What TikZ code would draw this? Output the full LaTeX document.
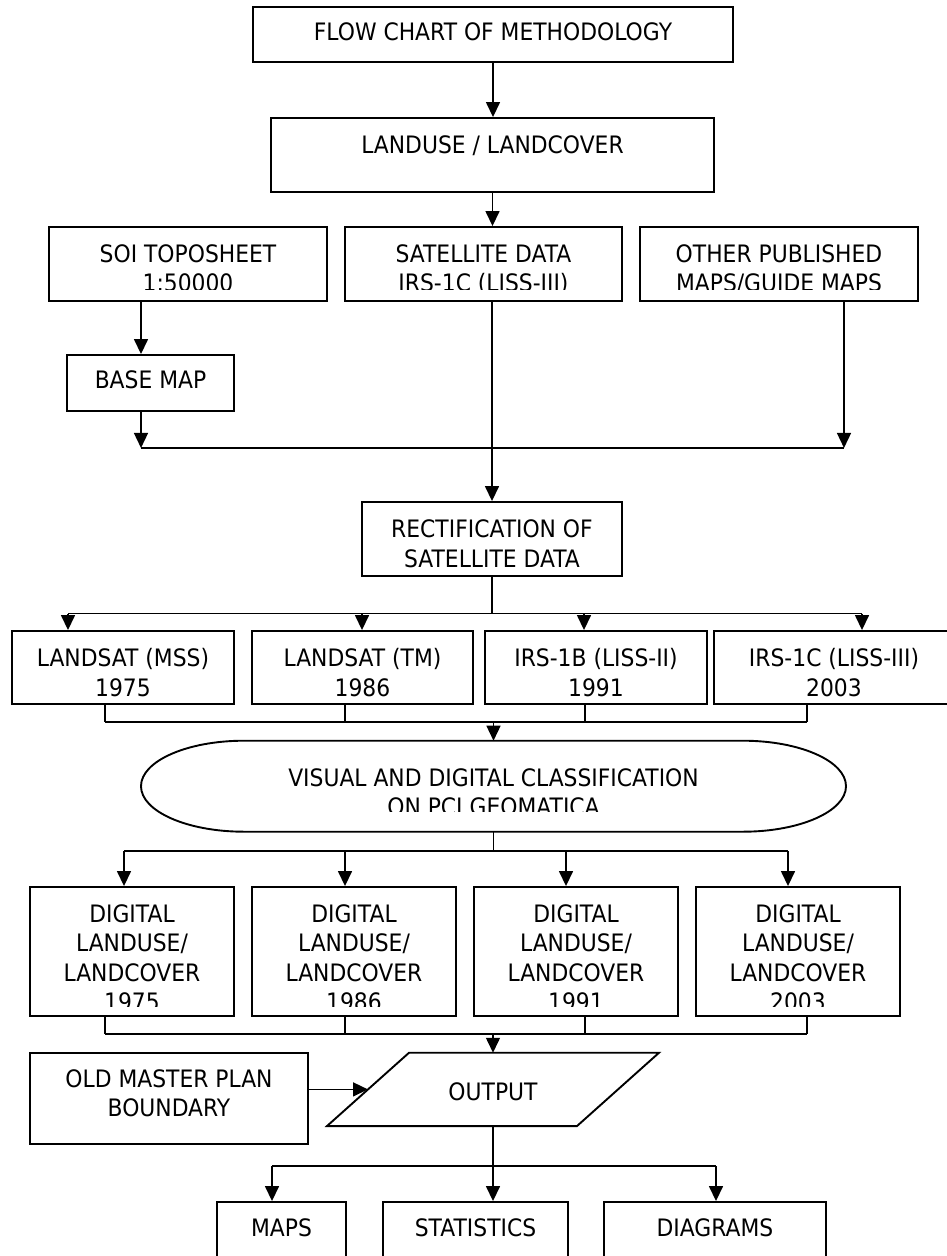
\documentclass[tikz,border=0pt]{standalone}
\usepackage{fontspec}
\setmainfont[FakeStretch=0.91]{DejaVu Sans}
\usetikzlibrary{arrows.meta,shapes.geometric,positioning}

\begin{document}
\begin{tikzpicture}[x=1pt,y=-1pt,on grid,
    >={Triangle[length=15pt,width=14pt]},
    font=\fontsize{24}{29.5}\selectfont,
    box/.style={draw,line width=1.9pt,align=center,inner sep=0pt,text height=17.5pt},
    flow/.style={->,line width=1.5pt},
    bus/.style={line width=1.5pt}]
  \useasboundingbox (0,0) rectangle (947,1256);

  % inputs
  \node[box,minimum width=480pt,minimum height=55pt,text depth=5pt] (title) at (493,34.5) {FLOW CHART OF METHODOLOGY};
  \node[box,minimum width=443pt,minimum height=74pt,text depth=20pt] (lulc) at (492.5,155) {LANDUSE / LANDCOVER};
  \node[box,minimum width=278pt,minimum height=74pt,text height=55.1pt,text depth=0pt] (soi) at (188,264) {SOI TOPOSHEET\\1:50000};
  \node[box,minimum width=277pt,minimum height=74pt,text height=55.1pt,text depth=0pt] (sat) at (483.5,264) {SATELLITE DATA\\IRS-1C (LISS-III)};
  \node[box,minimum width=278pt,minimum height=74pt,text height=55.1pt,text depth=0pt] (other) at (779,264) {OTHER PUBLISHED\\MAPS/GUIDE MAPS};
  \node[box,minimum width=167pt,minimum height=56pt,text depth=6pt] (base) at (150.5,383) {BASE MAP};
  \node[box,minimum width=260pt,minimum height=74pt,text height=56.5pt,text depth=0pt] (rect) at (492,539) {RECTIFICATION OF\\SATELLITE DATA};

  % satellite scenes
  \node[box,minimum width=222pt,minimum height=73pt,text height=57.5pt,text depth=0pt] (ls1) at (123,667.5) {LANDSAT (MSS)\\1975};
  \node[box,minimum width=221pt,minimum height=73pt,text height=57.5pt,text depth=0pt] (ls2) at (362.5,667.5) {LANDSAT (TM)\\1986};
  \node[box,minimum width=222pt,minimum height=73pt,text height=57.5pt,text depth=0pt] (ls3) at (596,667.5) {IRS-1B (LISS-II)\\1991};
  \node[box,minimum width=240pt,minimum height=73pt,text height=57.5pt,text depth=0pt] (ls4) at (834,667.5) {IRS-1C (LISS-III)\\2003};

  \node[align=center,inner sep=0pt,outer sep=0pt,minimum width=705pt,minimum height=91pt,text height=59.1pt,text depth=0pt] (clf) at (493.5,786.2) {VISUAL AND DIGITAL CLASSIFICATION\\ON PCI GEOMATICA};
  \draw[line width=1.9pt] ([xshift=103pt]clf.north west) -- ([xshift=-103pt]clf.north east)
    arc[start angle=90,end angle=-90,x radius=103pt,y radius=45.5pt]
    -- ([xshift=103pt]clf.south west)
    arc[start angle=270,end angle=90,x radius=103pt,y radius=45.5pt] -- cycle;

  % classified maps
  \node[box,minimum width=204pt,minimum height=129pt,text height=118.1pt,text depth=0pt] (dg1) at (132,951.5) {DIGITAL\\LANDUSE/\\LANDCOVER\\1975};
  \node[box,minimum width=204pt,minimum height=129pt,text height=118.1pt,text depth=0pt] (dg2) [right=222pt of dg1] {DIGITAL\\LANDUSE/\\LANDCOVER\\1986};
  \node[box,minimum width=204pt,minimum height=129pt,text height=118.1pt,text depth=0pt] (dg3) [right=222pt of dg2] {DIGITAL\\LANDUSE/\\LANDCOVER\\1991};
  \node[box,minimum width=204pt,minimum height=129pt,text height=118.1pt,text depth=0pt] (dg4) [right=222pt of dg3] {DIGITAL\\LANDUSE/\\LANDCOVER\\2003};

  % output
  \node[inner sep=0pt,outer sep=0pt,minimum width=332pt,minimum height=73.3pt,text height=22.1pt,text depth=0pt] (out) at (493,1089.4) {OUTPUT};
  \draw[line width=1.9pt] ([xshift=82pt]out.north west) -- (out.north east)
    -- ([xshift=-82pt]out.south east) -- (out.south west) -- cycle;
  \node[box,minimum width=278pt,minimum height=91pt,text height=36.9pt,text depth=0pt] (old) at (169,1098.5) {OLD MASTER PLAN\\BOUNDARY};
  \node[box,minimum width=129pt,minimum height=98pt,text depth=46pt] (maps) at (281.5,1251) {MAPS};
  \node[box,minimum width=185pt,minimum height=98pt,text depth=46pt] (stat) at (475.5,1251) {STATISTICS};
  \node[box,minimum width=222pt,minimum height=98pt,text depth=46pt] (diag) at (715,1251) {DIAGRAMS};

  % text cut off at the box bottoms
  \foreach \n in {soi,sat,other}
    \fill[white] ([shift={(2.2pt,2.2pt)}]\n.south west) rectangle ([shift={(-2.2pt,12pt)}]\n.south east);
  \foreach \n in {dg1,dg2,dg3,dg4}
    \fill[white] ([shift={(2.2pt,2.2pt)}]\n.south west) rectangle ([shift={(-2.2pt,10.3pt)}]\n.south east);
  \fill[white] ([shift={(-150pt,4pt)}]clf.south) rectangle ([shift={(150pt,20pt)}]clf.south);

  % junctions
  \coordinate (ja) at ([shift={(-9.5pt,-36pt)}]base.south);
  \coordinate (jr) at ([xshift=65pt]other.south |- ja);
  \coordinate (jb) at ([yshift=-36.7pt]rect.south);
  \coordinate (jc) at ([yshift=18.7pt]clf.north);
  \coordinate (jd) at ([yshift=-19.3pt]clf.south);
  \coordinate (je) at ([yshift=18.7pt]out.north);
  \coordinate (jf) at ([yshift=-40pt]out.south);

  \draw[flow] (title.south) -- (title.south |- lulc.north);
  \draw[flow] (lulc.south) -- (lulc.south |- sat.north);
  \draw[flow] ([xshift=-9.5pt]base.north |- soi.south) -- ([xshift=-9.5pt]base.north);
  \draw[flow] ([xshift=-9.5pt]base.south) -- (ja);
  \draw[flow] ([xshift=65pt]other.south) -- (jr);
  \draw[bus] (ja) -- (jr);
  \draw[flow] (rect.north |- sat.south) -- (rect.north);

  \draw[bus] (rect.south) -- (jb);
  \draw[bus] ([xshift=-55pt]ls1.north |- jb) -- ([xshift=28pt]ls4.north |- jb);
  \foreach \n/\d in {ls1/-55,ls2/-0.5,ls3/-12,ls4/28}
    \draw[flow] ([xshift=\d pt]\n.north |- jb) -- ([xshift=\d pt]\n.north);

  \foreach \n/\d in {ls1/-18,ls2/-17.5,ls3/-11,ls4/-27}
    \draw[bus] ([xshift=\d pt]\n.south) -- ([xshift=\d pt]\n.south |- jc);
  \draw[bus] ([xshift=-18pt]ls1.south |- jc) -- ([xshift=-27pt]ls4.south |- jc);
  \draw[flow] (jc) -- (clf.north);

  \draw[bus] (clf.south) -- (jd);
  \draw[bus] ([xshift=-8pt]dg1.north |- jd) -- ([xshift=-10pt]dg4.north |- jd);
  \foreach \n/\d in {dg1/-8,dg2/-9,dg3/-10,dg4/-10}
    \draw[flow] ([xshift=\d pt]\n.north |- jd) -- ([xshift=\d pt]\n.north);

  \foreach \n/\d in {dg1/-27,dg2/-9,dg3/9,dg4/9}
    \draw[bus] ([xshift=\d pt]\n.south) -- ([xshift=\d pt]\n.south |- je);
  \draw[bus] ([xshift=-27pt]dg1.south |- je) -- ([xshift=9pt]dg4.south |- je);
  \draw[flow] (je) -- (out.north);
  \draw[flow] (old.east |- out.west) -- ([xshift=41pt]out.west);

  \draw[bus] (out.south) -- (jf);
  \draw[bus] ([xshift=-9.5pt]maps.north |- jf) -- ([xshift=1pt]diag.north |- jf);
  \foreach \n/\d in {maps/-9.5,stat/17.5,diag/1}
    \draw[flow] ([xshift=\d pt]\n.north |- jf) -- ([xshift=\d pt]\n.north);
\end{tikzpicture}
\end{document}
